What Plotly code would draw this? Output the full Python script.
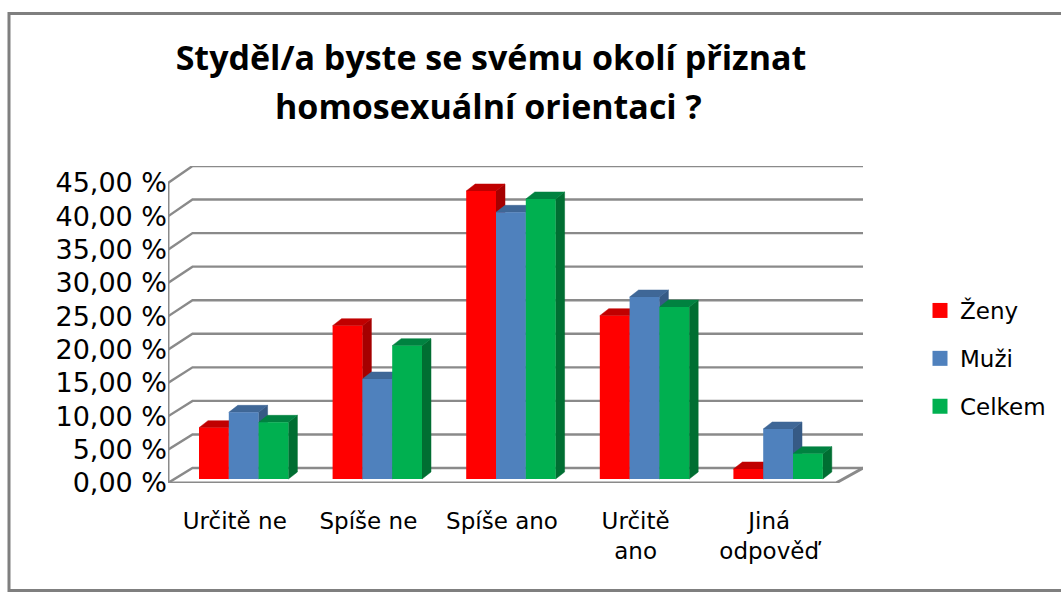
import plotly.graph_objects as go

categories = ["Určitě ne", "Spíše ne", "Spíše ano", "Určitě<br>ano", "Jiná<br>odpověď"]
zeny = [7.7, 23.0, 43.2, 24.5, 1.5]
muzi = [10.0, 15.0, 40.0, 27.3, 7.5]
celkem = [8.5, 20.0, 42.0, 25.8, 3.8]
tick_vals = [0, 5, 10, 15, 20, 25, 30, 35, 40, 45]
tick_text = ["0,00 %", "5,00 %", "10,00 %", "15,00 %", "20,00 %", "25,00 %", "30,00 %", "35,00 %", "40,00 %", "45,00 %"]

W, H = 1061, 592
L, R, T, B = 168, 863, 166, 483
XR = [-0.5, 4.702]
YR = [0, 47.55]
ux = (R - L) / (XR[1] - XR[0])
uy = (B - 183) / 45.0

series = [
    ("Ženy", zeny, "#FF0000", "#C00000", "#A50000"),
    ("Muži", muzi, "#4F81BD", "#3F6797", "#365A85"),
    ("Celkem", celkem, "#00B050", "#008240", "#006E32"),
]
bar_w = 29.8 / ux
bar_start = -0.268
base = 4 / uy
dx, dy = 9 / ux, 7 / uy
wall_dx, wall_dy = 24.5 / ux, 15 / uy
floor_end = XR[0] + 668 / ux
GRID = "#8A8A8A"

fig = go.Figure()

# walls
gx, gy = [], []
for v in tick_vals:
    by = v * 1.0067 + wall_dy
    gx += [XR[0], XR[0] + wall_dx, XR[1], None]
    gy += [v, by, by, None]
fig.add_trace(go.Scatter(x=gx, y=gy, mode="lines", line=dict(color=GRID, width=2.4),
                         showlegend=False, hoverinfo="skip", cliponaxis=False))
fig.add_trace(go.Scatter(x=[XR[0], XR[0], floor_end, XR[1]], y=[45, 0, 0, wall_dy], mode="lines",
                         line=dict(color=GRID, width=3), showlegend=False, hoverinfo="skip", cliponaxis=False))

# depth faces
for s, (name, vals, front, top, side) in enumerate(series):
    x1s = [i + bar_start + s * bar_w for i in range(len(vals))]
    sx, sy, tx, ty = [], [], [], []
    for x1, v in zip(x1s, vals):
        x2 = x1 + bar_w
        t = base + v
        sx += [x2, x2 + dx, x2 + dx, x2, x2, None]
        sy += [base, base + dy, t + dy, t, base, None]
        tx += [x1, x1 + dx, x2 + dx, x2, x1, None]
        ty += [t, t + dy, t + dy, t, t, None]
    for fx, fy, col in ((sx, sy, side), (tx, ty, top)):
        fig.add_trace(go.Scatter(x=fx, y=fy, mode="lines", fill="toself", fillcolor=col,
                                 line=dict(color=col, width=0.5), showlegend=False, hoverinfo="skip"))

# front faces
for s, (name, vals, front, top, side) in enumerate(series):
    fig.add_trace(go.Bar(x=list(range(len(vals))), y=vals, base=base, name=name, width=bar_w,
                         offset=bar_start + s * bar_w, marker=dict(color=front, line=dict(width=0)),
                         xaxis="x2", yaxis="y2", showlegend=False))

# legend keys
for name, vals, front, top, side in series:
    fig.add_trace(go.Scatter(x=[None], y=[None], mode="markers", name=name, legendgroup=name,
                             marker=dict(symbol="square", size=15, color=front)))

def px(x):
    return (x - L) / (R - L)

def py(y):
    return (B - y) / (B - T)

font = "'DejaVu Sans', sans-serif"
title_font = "'Open Sans', sans-serif"
fig.update_layout(
    width=W, height=H, autosize=False,
    margin=dict(l=L, r=W - R, t=T, b=H - B, pad=0, autoexpand=False),
    paper_bgcolor="white", plot_bgcolor="rgba(0,0,0,0)",
    barmode="overlay",
    font=dict(family=font, color="black", size=23),
    title=dict(text="<b>Styděl/a byste se svému okolí přiznat</b>", font=dict(size=34, family=title_font),
               x=491 / W, xanchor="center", y=1 - 58 / H, yanchor="middle"),
    annotations=[dict(text="<b>homosexuální orientaci ?</b>", font=dict(size=34, family=title_font),
                      xref="paper", yref="paper", x=px(488), y=py(106), xanchor="center", yanchor="middle",
                      showarrow=False)],
    xaxis=dict(range=XR, tickvals=list(range(len(categories))), ticktext=categories, showgrid=False,
               zeroline=False, showline=False, ticks="outside", ticklen=17, tickcolor="rgba(0,0,0,0)"),
    yaxis=dict(range=YR, tickvals=tick_vals, ticktext=tick_text, showgrid=False, zeroline=False,
               showline=False, ticks="", tickfont=dict(size=27)),
    xaxis2=dict(range=XR, overlaying="x", visible=False, matches="x"),
    yaxis2=dict(range=YR, overlaying="y", visible=False, matches="y"),
    legend=dict(x=px(920), y=py(289), xanchor="left", yanchor="top", tracegroupgap=15,
                font=dict(size=23), bgcolor="rgba(0,0,0,0)", traceorder="grouped"),
    shapes=[dict(type="rect", xref="paper", yref="paper", x0=px(9), x1=px(1075), y0=py(590.5), y1=py(13.5),
                 line=dict(color="#7F7F7F", width=3), fillcolor="rgba(0,0,0,0)", layer="below")],
)
fig.write_html("out.html", config={"displayModeBar": False},
               post_script="document.body.style.margin='0';document.body.style.overflow='hidden';")
